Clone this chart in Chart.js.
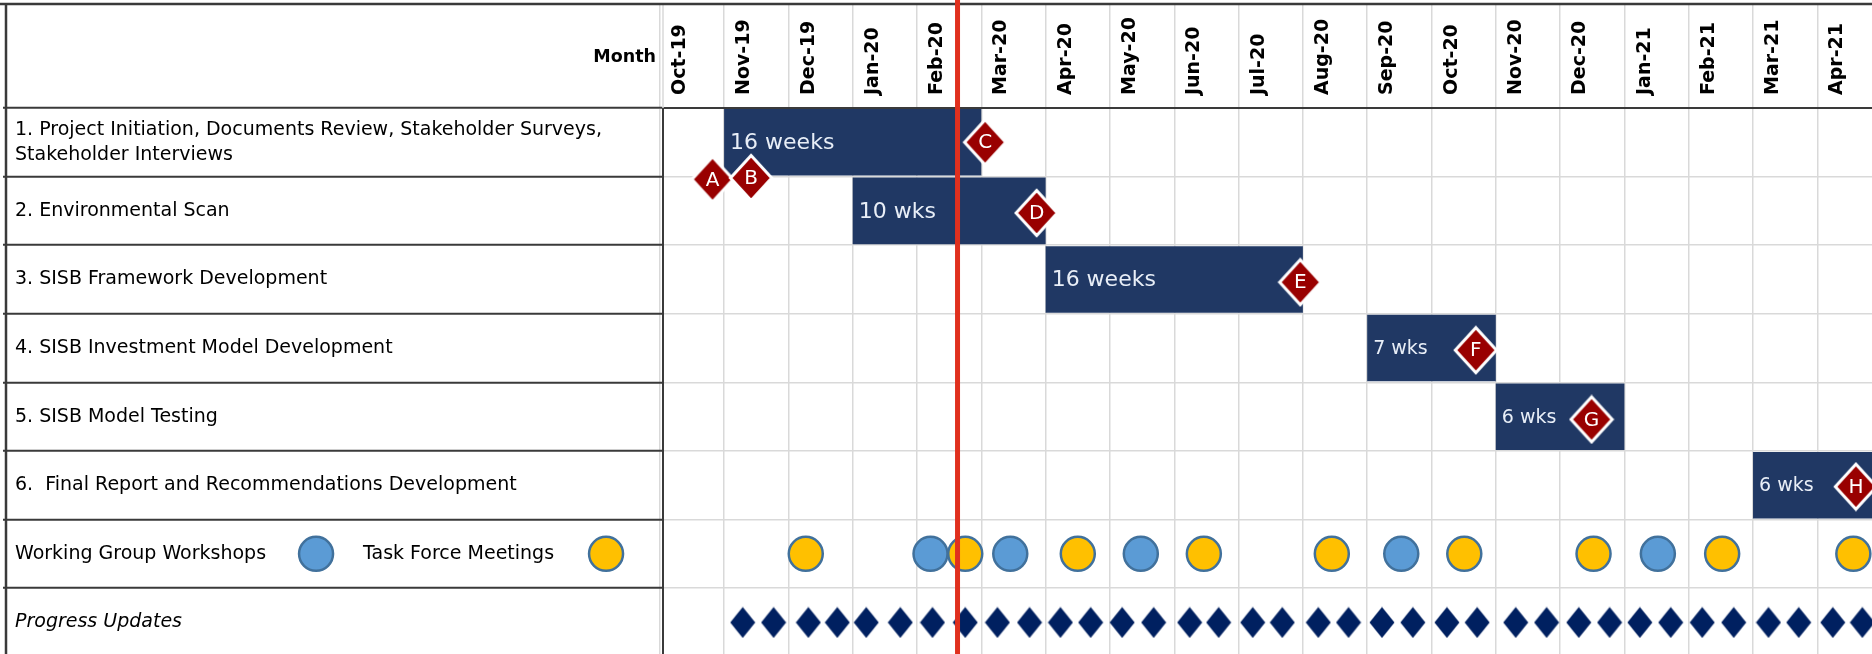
<!DOCTYPE html>
<html>
<head>
<meta charset="utf-8">
<title>Project Schedule</title>
<script src="https://cdn.jsdelivr.net/npm/chart.js@4.4.1/dist/chart.umd.min.js"></script>
<style>
  html, body { margin: 0; padding: 0; background: #fff; overflow: hidden; }
  canvas { display: block; }
</style>
</head>
<body>
<canvas id="gantt" width="1872" height="654"></canvas>
<script>
// ---- data ----
var headerLabel = 'Month';
var months = ['Oct-19', 'Nov-19', 'Dec-19', 'Jan-20', 'Feb-20', 'Mar-20', 'Apr-20', 'May-20', 'Jun-20', 'Jul-20',
    'Aug-20', 'Sep-20', 'Oct-20', 'Nov-20', 'Dec-20', 'Jan-21', 'Feb-21', 'Mar-21', 'Apr-21'];
var rowLabels = [
    ['1. Project Initiation, Documents Review, Stakeholder Surveys,', 'Stakeholder Interviews'],
    '2. Environmental Scan',
    '3. SISB Framework Development',
    '4. SISB Investment Model Development',
    '5. SISB Model Testing',
    '6.  Final Report and Recommendations Development',
    '',
    'Progress Updates'
];
// month index: 0 = start of Oct-19
var taskRows = [0, 1, 2, 3, 4, 5];
var taskStart = [1, 3, 6, 11, 13, 17];
var taskEnd = [5, 6, 10, 13, 15, 19];
var taskDuration = ['16 weeks', '10 wks', '16 weeks', '7 wks', '6 wks', '6 wks'];

var milestoneNames = ['A', 'B', 'C', 'D', 'E', 'F', 'G', 'H'];
var milestoneMonth = [0.82, 1.42, 5.06, 5.86, 9.96, 12.69, 14.49, 18.60];
var milestoneRow = [1.04, 1.02, 0.5, 1.53, 2.54, 3.53, 4.54, 5.52];

var workshopLabel = 'Working Group Workshops';
var taskForceLabel = 'Task Force Meetings';
var meetingRow = 6;
var workshopMonth = [4.21, 5.45, 7.48, 11.53, 15.52];
var taskForceMonth = [2.27, 4.75, 6.50, 8.46, 10.45, 12.51, 14.52, 16.52, 18.56];

var progressRow = 7;
var progressMonth = [1.29, 1.77, 2.31, 2.76, 3.21, 3.74, 4.24, 4.75, 5.25, 5.75, 6.23, 6.70,
    7.19, 7.68, 8.24, 8.69, 9.22, 9.68, 10.24, 10.71, 11.23, 11.71, 12.24, 12.71,
    13.31, 13.79, 14.29, 14.77, 15.24, 15.72, 16.21, 16.70, 17.24, 17.71, 18.24, 18.70];

var todayMonth = 4.63;

// ---- styles ----
var font = 'DejaVu Sans';
var barColor = '#203864';
var workshopColor = '#5b9bd5';
var taskForceColor = '#ffc000';
var dotBorder = '#41719c';
var lineDark = '#3a3a3a';
var lineLight = '#d9d9d9';
var durationSize = [22, 22, 22, 19, 19, 19];
var rowFontSize = 19;

function diamond(w, h, fill, stroke, lw) {
    var c = document.createElement('canvas');
    c.width = w;
    c.height = h;
    var g = c.getContext('2d');
    var p = lw ? lw * 0.8 : 0.5;
    g.beginPath();
    g.moveTo(w / 2, p);
    g.lineTo(w - p, h / 2);
    g.lineTo(w / 2, h - p);
    g.lineTo(p, h / 2);
    g.closePath();
    g.fillStyle = fill;
    g.fill();
    if (lw) {
        g.lineWidth = lw;
        g.strokeStyle = stroke;
        g.stroke();
    }
    return c;
}
var milestoneMark = diamond(46, 50, '#990000', '#ffffff', 3);
var progressMark = diamond(26, 32, '#002060');

var tablePlugin = {
    id: 'table',
    afterDraw: function(chart) {
        var ctx = chart.ctx;
        var a = chart.chartArea;
        var xs = chart.scales.x;
        var ys = chart.scales.y;
        ctx.save();

        // bar texts
        var bars = chart.getDatasetMeta(4).data;
        ctx.textAlign = 'left';
        ctx.textBaseline = 'middle';
        ctx.fillStyle = '#e8eef7';
        for (var i = 0; i < bars.length; i++) {
            ctx.font = durationSize[i] + 'px "' + font + '"';
            ctx.fillText(taskDuration[i], Math.min(bars[i].x, bars[i].base) + 6, bars[i].y + 1);
        }

        // milestone letters
        var pts = chart.getDatasetMeta(0).data;
        ctx.textAlign = 'center';
        ctx.font = '20px "' + font + '"';
        ctx.fillStyle = '#ffffff';
        for (i = 0; i < pts.length; i++) {
            ctx.fillText(milestoneNames[i], pts[i].x, pts[i].y + 1);
        }

        // legend row in the label column
        var yMid = ys.getPixelForValue(meetingRow + 0.5);
        ctx.textAlign = 'left';
        ctx.fillStyle = '#000';
        ctx.font = rowFontSize + 'px "' + font + '"';
        var tx = ys.left;
        ctx.fillText(workshopLabel, tx, yMid);
        var cx = tx + ctx.measureText(workshopLabel).width + 50;
        dot(ctx, cx, yMid, workshopColor);
        tx = cx + 47;
        ctx.fillText(taskForceLabel, tx, yMid);
        cx = tx + ctx.measureText(taskForceLabel).width + 52;
        dot(ctx, cx, yMid, taskForceColor);

        // header
        ctx.font = 'bold 17.5px "' + font + '"';
        ctx.textAlign = 'right';
        ctx.fillText(headerLabel, a.left - 7, 57);
        ctx.strokeStyle = lineLight;
        ctx.lineWidth = 1.5;
        seg(ctx, a.left, xs.top, a.left, a.top);

        // frame
        ctx.strokeStyle = lineDark;
        ctx.lineWidth = 2.5;
        seg(ctx, 0, xs.top, chart.width, xs.top);
        seg(ctx, 6, xs.top, 6, chart.height);

        // today line
        var tdx = xs.getPixelForValue(todayMonth);
        ctx.strokeStyle = '#e0301e';
        ctx.lineWidth = 5;
        seg(ctx, tdx, 0, tdx, chart.height);
        ctx.restore();
    }
};

function seg(ctx, x1, y1, x2, y2) {
    ctx.beginPath();
    ctx.moveTo(x1, y1);
    ctx.lineTo(x2, y2);
    ctx.stroke();
}

function dot(ctx, x, y, color) {
    ctx.beginPath();
    ctx.arc(x, y, 17, 0, Math.PI * 2);
    ctx.fillStyle = color;
    ctx.fill();
    ctx.lineWidth = 2.5;
    ctx.strokeStyle = dotBorder;
    ctx.stroke();
    ctx.fillStyle = '#000';
}

new Chart(document.getElementById('gantt'), {
    type: 'bar',
    data: {
        datasets: [{
            type: 'scatter',
            label: 'Milestones',
            data: milestoneNames.map(function(n, i) { return { x: milestoneMonth[i], y: milestoneRow[i] }; }),
            pointStyle: milestoneMark,
            order: 1
        }, {
            type: 'scatter',
            label: workshopLabel,
            data: workshopMonth.map(function(m) { return { x: m, y: meetingRow + 0.5 }; }),
            pointStyle: 'circle',
            pointRadius: 17,
            backgroundColor: workshopColor,
            borderColor: dotBorder,
            borderWidth: 2.5,
            order: 2
        }, {
            type: 'scatter',
            label: taskForceLabel,
            data: taskForceMonth.map(function(m) { return { x: m, y: meetingRow + 0.5 }; }),
            pointStyle: 'circle',
            pointRadius: 17,
            backgroundColor: taskForceColor,
            borderColor: dotBorder,
            borderWidth: 2.5,
            order: 2
        }, {
            type: 'scatter',
            label: 'Progress Updates',
            data: progressMonth.map(function(m) { return { x: m, y: progressRow + 0.5 }; }),
            pointStyle: progressMark,
            order: 2
        }, {
            type: 'bar',
            label: 'Tasks',
            indexAxis: 'y',
            data: taskRows.map(function(r, i) { return { x: [taskStart[i], taskEnd[i]], y: r + 0.5 }; }),
            backgroundColor: barColor,
            categoryPercentage: 1,
            barPercentage: 0.97,
            order: 3
        }]
    },
    options: {
        responsive: false,
        animation: false,
        events: [],
        layout: { autoPadding: false, padding: { top: 4, left: 15, right: 0, bottom: 0 } },
        plugins: { legend: { display: false }, tooltip: { enabled: false } },
        scales: {
            x: {
                type: 'linear',
                position: 'top',
                min: 0.05,
                max: 18.85,
                offset: false,
                afterBuildTicks: function(axis) {
                    axis.ticks = months.map(function(m, i) { return { value: i }; });
                },
                afterFit: function(axis) {
                    axis.height = 104;
                    axis.paddingLeft = 0;
                    axis.paddingRight = 0;
                },
                ticks: {
                    autoSkip: false,
                    minRotation: 90,
                    maxRotation: 90,
                    labelOffset: 43,
                    padding: -91,
                    color: '#000',
                    font: { family: font, size: 19, weight: 'bold' },
                    callback: function(v, i) { return months[i]; }
                },
                grid: { offset: false, color: lineLight, lineWidth: 1.5, tickColor: lineLight, tickWidth: 1.5, tickLength: 104 },
                border: { display: true, color: lineDark, width: 2 }
            },
            y: {
                type: 'linear',
                position: 'left',
                min: 0,
                max: 7.96,
                reverse: true,
                offset: false,
                afterBuildTicks: function(axis) {
                    axis.ticks = rowLabels.map(function(r, i) { return { value: i }; });
                },
                afterFit: function(axis) {
                    axis.width = 648;
                    axis.paddingTop = 0;
                    axis.paddingBottom = 0;
                },
                ticks: {
                    autoSkip: false,
                    crossAlign: 'far',
                    labelOffset: 34.3,
                    color: '#000',
                    font: function(c) {
                        return { family: font, size: rowFontSize, lineHeight: 1.3, style: c.index === progressRow ? 'italic' : 'normal' };
                    },
                    callback: function(v, i) { return rowLabels[i]; }
                },
                grid: {
                    offset: false,
                    color: function(c) { return c.tick && c.tick.value === 0 ? lineDark : lineLight; },
                    lineWidth: 1.5,
                    tickColor: lineDark,
                    tickWidth: 2,
                    tickLength: 660
                },
                border: { display: true, color: lineDark, width: 2 }
            }
        }
    },
    plugins: [tablePlugin]
});
</script>
</body>
</html>
